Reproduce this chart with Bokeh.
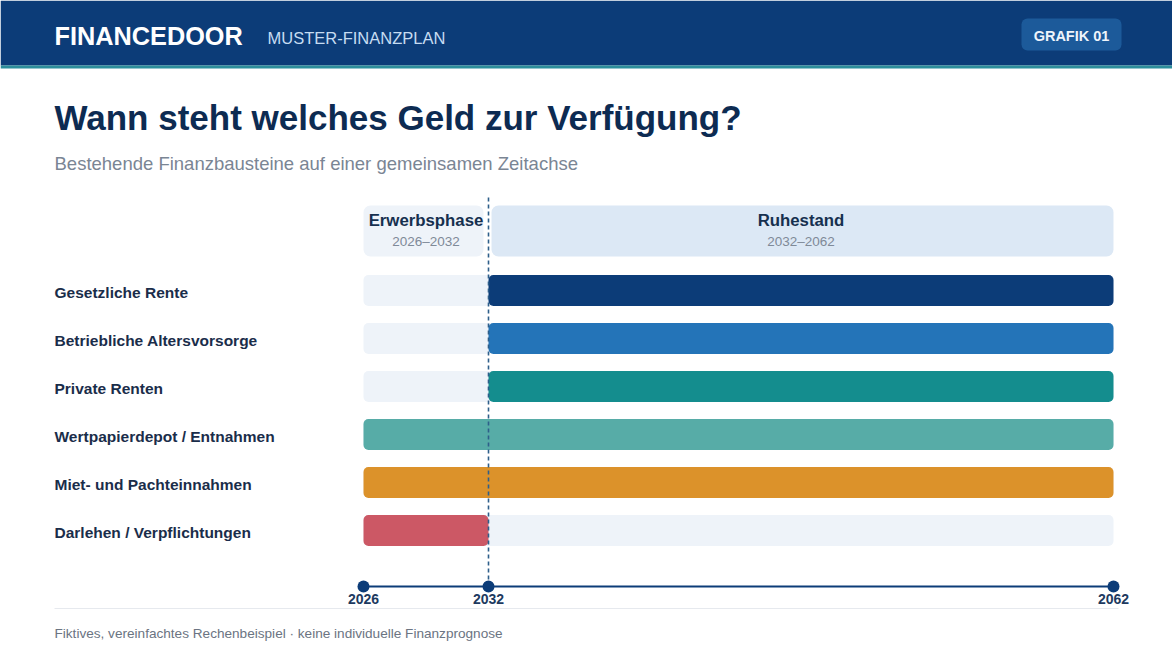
from bokeh.plotting import figure
from bokeh.models import Range1d, ColumnDataSource
from bokeh.core.properties import value
from bokeh.embed import file_html
from bokeh.resources import INLINE

# ---- data -------------------------------------------------------------
categories = [
    "Gesetzliche Rente",
    "Betriebliche Altersvorsorge",
    "Private Renten",
    "Wertpapierdepot / Entnahmen",
    "Miet- und Pachteinnahmen",
    "Darlehen / Verpflichtungen",
]
start_years = [2032, 2032, 2032, 2026, 2026, 2026]
end_years = [2062, 2062, 2062, 2062, 2062, 2032]
bar_colors = ["#0c3c78", "#2474b8", "#148d8e", "#57aca7", "#dc922a", "#cc5865"]

phase_names = ["Erwerbsphase", "Ruhestand"]
phase_start = [2026, 2032]
phase_end = [2032, 2062]
phase_fill = ["#eef3f9", "#dce8f5"]

tick_years = [2026, 2032, 2062]
timeline_start, timeline_end = 2026, 2062
retirement_year = 2032

FONT = value("Liberation Sans")
W, H = 1172, 660

# timeline occupies screen pixels 363..1113
tl_left, tl_right = 363, 1113
ppy = (tl_right - tl_left) / (timeline_end - timeline_start)
x_lo = timeline_start - tl_left / ppy
x_hi = x_lo + W / ppy

p = figure(
    width=W, height=H,
    x_range=Range1d(x_lo, x_hi), y_range=Range1d(H, 0),
    x_axis_type=None, y_axis_type=None,
    output_backend="svg", toolbar_location=None,
    min_border=0, outline_line_color=None,
    background_fill_color="white", border_fill_color="white",
)
p.grid.visible = False
p.extra_x_ranges = {"px": Range1d(0, W)}

# ---- header bar -------------------------------------------------------
p.quad(left=0, right=W, top=0, bottom=65, fill_color="#0c3c78",
       line_color=None, x_range_name="px")
p.quad(left=0, right=W, top=65, bottom=68, fill_color="#2c8e9b",
       line_color=None, x_range_name="px")
p.text(x=[54], y=[35], text=["FINANCEDOOR"], x_range_name="px",
       text_font=FONT, text_font_style="bold", text_font_size="25.3px",
       text_color="white", text_baseline="middle")
p.text(x=[267], y=[37], text=["MUSTER-FINANZPLAN"], x_range_name="px",
       text_font=FONT, text_font_size="16.5px",
       text_color="#c6dcf2", text_baseline="middle")
p.quad(left=1021, right=1121, top=18, bottom=50, fill_color="#1c5a9a",
       line_color=None, border_radius=6, x_range_name="px")
p.text(x=[1071], y=[35], text=["GRAFIK 01"], x_range_name="px",
       text_font=FONT, text_font_style="bold", text_font_size="14.5px",
       text_color="#eef4fb", text_align="center", text_baseline="middle")

# ---- titles -----------------------------------------------------------
p.text(x=[54], y=[117], text=["Wann steht welches Geld zur Verfügung?"],
       x_range_name="px", text_font=FONT, text_font_style="bold",
       text_font_size="35px", text_color="#0d2b52", text_baseline="middle")
p.text(x=[54], y=[163], text=["Bestehende Finanzbausteine auf einer gemeinsamen Zeitachse"],
       x_range_name="px", text_font=FONT, text_font_size="18.5px",
       text_color="#7a8594", text_baseline="middle")

# ---- phase header boxes -----------------------------------------------
gap_l = 5 / ppy
gap_r = 3 / ppy
phase_src = ColumnDataSource(dict(
    left=[phase_start[0], phase_start[1] + gap_r],
    right=[phase_end[0] - gap_l, phase_end[1]],
    fill=phase_fill,
    mid=[(a + b) / 2 for a, b in zip(phase_start, phase_end)],
    name=phase_names,
    span=[f"{a}\u2013{b}" for a, b in zip(phase_start, phase_end)],
))
p.quad(left="left", right="right", top=205, bottom=256, fill_color="fill",
       line_color=None, border_radius=7, source=phase_src)
p.text(x="mid", y=220, text="name", source=phase_src, text_font=FONT,
       text_font_style="bold", text_font_size="16.8px", text_color="#16304f",
       text_align="center", text_baseline="middle")
p.text(x="mid", y=241, text="span", source=phase_src, text_font=FONT,
       text_font_size="13.5px", text_color="#7f8a98",
       text_align="center", text_baseline="middle")

# ---- rows -------------------------------------------------------------
row_y = [290 + 48 * i for i in range(len(categories))]
rows = ColumnDataSource(dict(
    y=row_y, label_y=[y + 2 for y in row_y], label=categories,
    start=start_years, end=end_years, color=bar_colors,
))
p.hbar(y="y", left=timeline_start, right=timeline_end, height=31,
       fill_color="#eef3f9", line_color=None, border_radius=5, source=rows)
p.hbar(y="y", left="start", right="end", height=31, fill_color="color",
       line_color=None, border_radius=5, source=rows)
p.text(x=54, y="label_y", text="label", source=rows, x_range_name="px",
       text_font=FONT, text_font_style="bold", text_font_size="15.5px",
       text_color="#1a2d4a", text_baseline="middle")

# retirement marker
p.segment(x0=retirement_year, x1=retirement_year, y0=197, y1=590,
          line_color="#2e5f8a", line_width=1.6, line_dash="4 3")

# ---- timeline axis ----------------------------------------------------
p.segment(x0=timeline_start, x1=timeline_end, y0=586, y1=586,
          line_color="#0c3c78", line_width=2)
ticks = ColumnDataSource(dict(x=tick_years, label=[str(t) for t in tick_years]))
p.scatter(x="x", y=586, size=12, fill_color="#0c3c78", line_color=None,
          source=ticks)
p.text(x="x", y=598, text="label", source=ticks, text_font=FONT,
       text_font_style="bold", text_font_size="14px", text_color="#1d3a5f",
       text_align="center", text_baseline="middle")

# ---- footer -----------------------------------------------------------
p.segment(x0=54, x1=1118, y0=608, y1=608, line_color="#e6e9ee",
          line_width=1, x_range_name="px")
p.text(x=[54], y=[633],
       text=["Fiktives, vereinfachtes Rechenbeispiel \u00b7 keine individuelle Finanzprognose"],
       x_range_name="px", text_font=FONT, text_font_size="13.6px",
       text_color="#6b7482", text_baseline="middle")

open("out.html", "w").write(file_html(p, INLINE))
